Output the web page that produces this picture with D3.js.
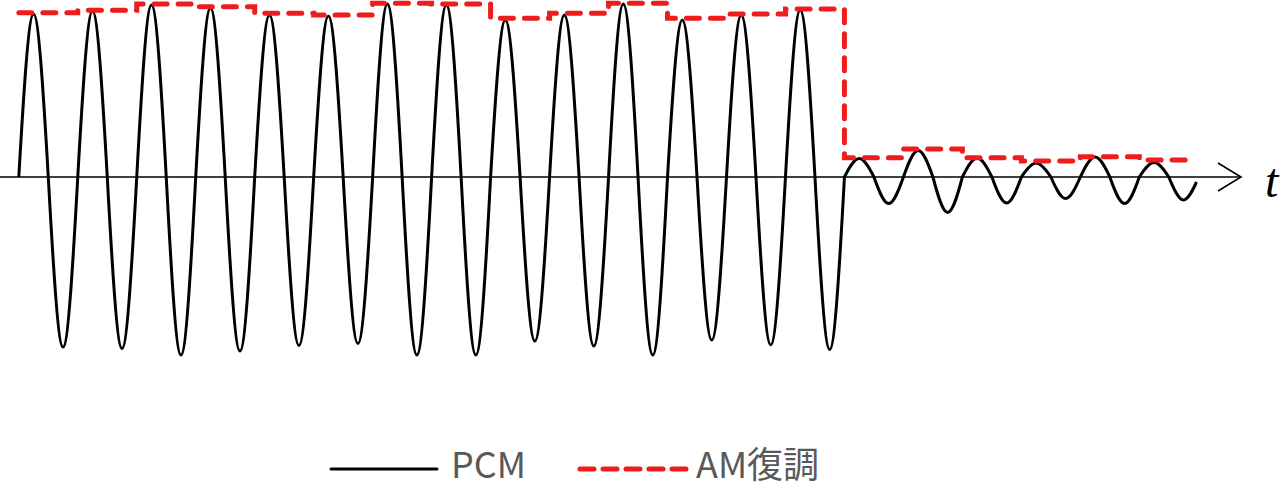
<!DOCTYPE html>
<html><head><meta charset="utf-8">
<script src="https://cdn.jsdelivr.net/npm/d3@7"></script>
<style>body{margin:0;background:#fff;}svg{display:block}</style>
</head><body>
<svg id="c" width="1284" height="488"></svg>
<script>
// ---- data ----
const cycles = d3.range(20);                       // carrier cycle index
const pcmPeaks   = [163, 166, 172, 169, 162, 161, 173, 172, 157, 162, 173, 157, 162, 167,
                    18.5, 26.5, 19, 14, 20, 14.5];
const pcmTroughs = [170, 171.5, 178, 174, 168.5, 166.5, 178, 178, 164, 169, 178, 163, 168, 172.5,
                    26.5, 35.5, 26, 21.5, 26.5, 23];
const amLevels   = [164.3, 166.7, 173, 170.3, 163.7, 162, 173.7, 173, 158.7, 163.7, 173.7, 158.7, 163, 168,
                    19.3, 28, 19.3, 16, 20.3, 17];
const waveEnd  = {t: 19.97, v: -5};
const amEndT   = 19.85;
const axisLabel = "t";
const legendLabels = ["PCM", "AM復調"];

// ---- scales ----
const x = d3.scaleLinear().domain([0, 20]).range([18.8, 1198.3]);
const y = d3.scaleLinear().domain([-180, 180]).range([357, -3]);

const svg = d3.select("#c");
const RED = "#ee1c1c";

// half-sine curve between zero crossings and extremes
function halfSine(context) {
  let pts = [];
  return {
    areaStart(){}, areaEnd(){},
    lineStart(){ pts = []; },
    point(px, py){ pts.push([px, py]); },
    lineEnd(){
      if (!pts.length) return;
      context.moveTo(pts[0][0], pts[0][1]);
      const k = Math.PI / 6;
      for (let i = 1; i < pts.length; i++) {
        const [x0, y0] = pts[i-1], [x1, y1] = pts[i];
        const dx = x1 - x0, dy = y1 - y0;
        if ((i - 1) % 2 === 0) context.bezierCurveTo(x0 + dx/3, y0 + k*dy, x1 - dx/3, y1, x1, y1);
        else context.bezierCurveTo(x0 + dx/3, y0, x1 - dx/3, y1 - k*dy, x1, y1);
      }
    }
  };
}

// wave points: zero crossings and extremes
const wavePts = [];
cycles.forEach(i => {
  wavePts.push([i, 0], [i + 0.25, pcmPeaks[i]], [i + 0.5, 0], [i + 0.75, -pcmTroughs[i]]);
});
wavePts.push([waveEnd.t, waveEnd.v]);

// axis
const y0 = y(0);
svg.append("line").attr("x1", 0).attr("x2", 1241).attr("y1", y0).attr("y2", y0)
  .attr("stroke", "#000").attr("stroke-width", 1.6);
svg.append("path")
  .attr("d", `M${1218},${y0-14}L${1241},${y0}L${1218},${y0+14}`)
  .attr("fill", "none").attr("stroke", "#000").attr("stroke-width", 1.6);
svg.append("text").attr("x", 1265).attr("y", 197)
  .attr("font-family", "'Liberation Serif', 'DejaVu Serif', serif")
  .attr("font-style", "italic").attr("font-size", 48).attr("fill", "#000")
  .text(axisLabel);

// PCM waveform
const waveLine = d3.line().x(d => x(d[0])).y(d => y(d[1])).curve(halfSine);
svg.append("path").attr("d", waveLine(wavePts))
  .attr("fill", "none").attr("stroke", "#000").attr("stroke-width", 3)
  .attr("stroke-linejoin", "round");

// AM demodulation envelope
const amPts = amLevels.map((v, i) => [i, v]);
amPts.push([amEndT, amLevels[amLevels.length - 1]]);
const stepLine = d3.line().x(d => x(d[0])).y(d => y(d[1])).curve(d3.curveStepAfter);
svg.append("path").attr("d", stepLine(amPts))
  .attr("fill", "none").attr("stroke", RED).attr("stroke-width", 5)
  .attr("stroke-dasharray", "13,11").attr("stroke-linecap", "round");

// legend
const LY = 469, TY = 478;
const lg = svg.append("g");
lg.append("line").attr("x1", 331).attr("x2", 437).attr("y1", LY).attr("y2", LY)
  .attr("stroke", "#000").attr("stroke-width", 3).attr("stroke-linecap", "round");
lg.append("text").attr("x", 451).attr("y", TY)
  .attr("font-family", "'Noto Sans CJK JP', 'Noto Sans', sans-serif").attr("font-size", 36)
  .attr("fill", "#595959").text(legendLabels[0]);
lg.append("line").attr("x1", 580).attr("x2", 686).attr("y1", LY).attr("y2", LY)
  .attr("stroke", RED).attr("stroke-width", 5).attr("stroke-linecap", "round")
  .attr("stroke-dasharray", "14,9");
lg.append("text").attr("x", 696).attr("y", TY)
  .attr("font-family", "'Noto Sans CJK JP', 'Noto Sans', sans-serif").attr("font-size", 36)
  .attr("fill", "#595959").text(legendLabels[1]);
</script>
</body></html>
